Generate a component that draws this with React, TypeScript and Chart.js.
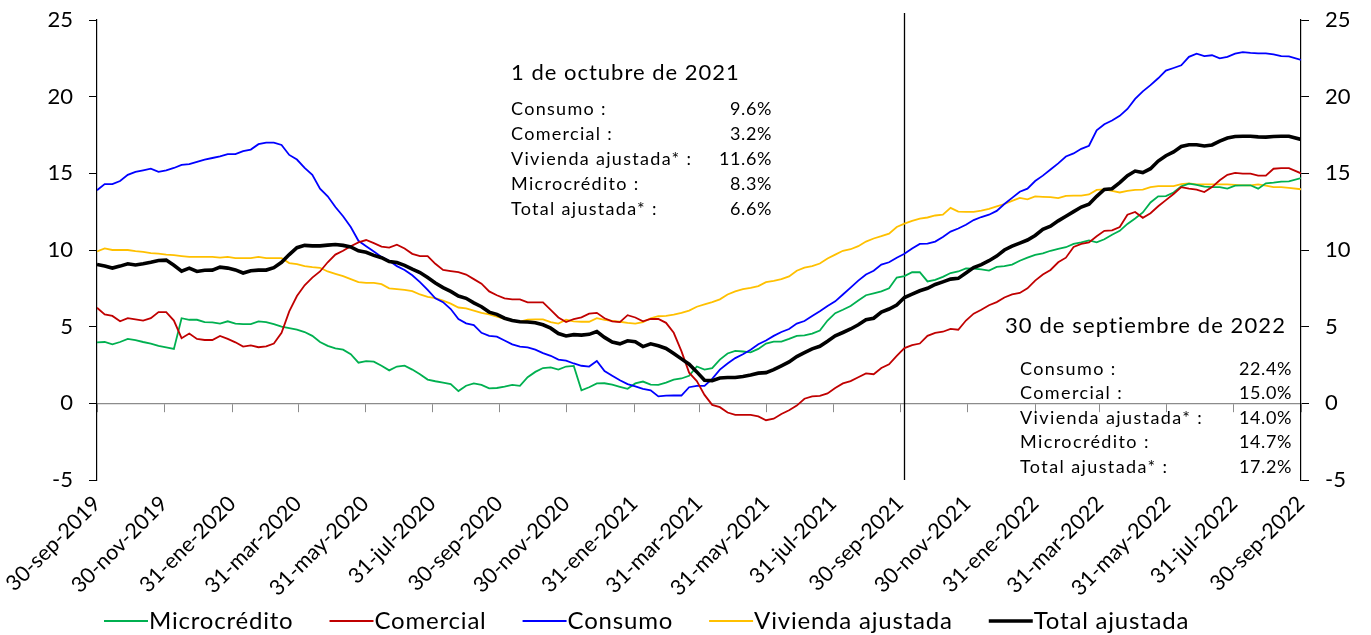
import React, { useEffect, useRef } from "react";
import { Chart, registerables } from "chart.js";

Chart.register(...registerables);

const FONT = "Lato, 'Noto Sans', sans-serif";

const seriesStart = "2019-09-30";
const seriesEnd = "2022-09-30";
const markerDate = "2021-10-04";

const tickDates = [
  "2019-09-30", "2019-11-30", "2020-01-31", "2020-03-31", "2020-05-31", "2020-07-31",
  "2020-09-30", "2020-11-30", "2021-01-31", "2021-03-31", "2021-05-31", "2021-07-31",
  "2021-09-30", "2021-11-30", "2022-01-31", "2022-03-31", "2022-05-31", "2022-07-31", "2022-09-30",
];
const tickLabels = [
  "30-sep-2019", "30-nov-2019", "31-ene-2020", "31-mar-2020", "31-may-2020", "31-jul-2020",
  "30-sep-2020", "30-nov-2020", "31-ene-2021", "31-mar-2021", "31-may-2021", "31-jul-2021",
  "30-sep-2021", "30-nov-2021", "31-ene-2022", "31-mar-2022", "31-may-2022", "31-jul-2022", "30-sep-2022",
];
const yTicks = [-5, 0, 5, 10, 15, 20, 25];

const microcredito = [
  3.98, 4.0, 3.85, 4.0, 4.2, 4.12, 4.0, 3.9, 3.75, 3.65, 3.55, 5.55, 5.45, 5.45, 5.3, 5.28, 5.2, 5.35, 5.2, 5.17, 5.17, 5.35, 5.3, 5.17, 5.0, 4.9, 4.8, 4.65,
  4.4, 4.0, 3.75, 3.59, 3.5, 3.2, 2.65, 2.75, 2.72, 2.45, 2.15, 2.4, 2.46, 2.2, 1.9, 1.55, 1.44, 1.35, 1.25, 0.8, 1.15, 1.3, 1.2, 0.98, 1.0,
  1.09, 1.2, 1.14, 1.7, 2.05, 2.3, 2.35, 2.2, 2.4, 2.44, 0.85, 1.05, 1.3, 1.31, 1.22, 1.08, 0.95, 1.3, 1.42, 1.22, 1.2, 1.35, 1.55, 1.62, 1.8, 2.4, 2.2,
  2.3, 2.85, 3.25, 3.42, 3.38, 3.33, 3.55, 3.9, 4.02, 4.02, 4.2, 4.4, 4.43, 4.55, 4.75, 5.4, 5.88, 6.1, 6.35, 6.7, 7.05, 7.17, 7.3, 7.5,
  8.2, 8.3, 8.55, 8.55, 7.95, 8.05, 8.25, 8.5, 8.6, 8.8, 8.78, 8.73, 8.66, 8.9, 8.95, 9.05, 9.3, 9.5, 9.68, 9.78, 9.95, 10.08, 10.18, 10.4, 10.5, 10.62,
  10.5, 10.7, 11.0, 11.25, 11.7, 12.05, 12.45, 13.1, 13.5, 13.52, 13.75, 14.15, 14.33, 14.25, 14.13, 14.1, 14.1, 14.0, 14.2, 14.22, 14.22, 14.0, 14.35, 14.39, 14.46, 14.48, 14.69,
];
const comercial = [
  6.23, 5.8, 5.7, 5.35, 5.56, 5.48, 5.4, 5.55, 5.95, 5.95, 5.4, 4.25, 4.55, 4.2, 4.13, 4.13, 4.4, 4.2, 3.98, 3.7, 3.78, 3.66, 3.72, 3.9, 4.6, 6.0, 7.0, 7.7,
  8.2, 8.6, 9.2, 9.7, 9.95, 10.25, 10.5, 10.65, 10.45, 10.22, 10.15, 10.35, 10.1, 9.75, 9.6, 9.6, 9.1, 8.7, 8.62, 8.55, 8.4, 8.1, 7.8, 7.3, 7.05, 6.85, 6.78, 6.78,
  6.58, 6.58, 6.58, 6.1, 5.6, 5.3, 5.5, 5.61, 5.85, 5.9, 5.55, 5.35, 5.3, 5.75, 5.6, 5.35, 5.5, 5.5, 5.25, 4.6, 3.4, 2.0, 1.45, 0.55,
  -0.1, -0.25, -0.6, -0.75, -0.75, -0.75, -0.85, -1.1, -1.0, -0.7, -0.45, -0.15, 0.3, 0.45, 0.49, 0.65, 1.0, 1.3, 1.45, 1.7, 1.95, 1.9, 2.3, 2.55,
  3.1, 3.6, 3.8, 3.9, 4.4, 4.6, 4.67, 4.85, 4.8, 5.4, 5.85, 6.1, 6.4, 6.6, 6.9, 7.1, 7.2, 7.5, 8.0, 8.4, 8.7, 9.2, 9.5, 10.2, 10.4, 10.5,
  10.9, 11.25, 11.28, 11.5, 12.3, 12.48, 12.1, 12.4, 12.85, 13.25, 13.65, 14.1, 14.0, 13.94, 13.78, 14.1, 14.55, 14.9, 15.03, 14.98, 14.98, 14.85, 14.85, 15.3, 15.34, 15.34, 15.0,
];
const consumo = [
  13.9, 14.3, 14.3, 14.5, 14.9, 15.1, 15.2, 15.3, 15.1, 15.2, 15.35, 15.55, 15.6, 15.75, 15.9, 16.0, 16.1, 16.25, 16.25, 16.45, 16.55, 16.9, 17.0, 17.0, 16.85, 16.2, 15.9, 15.35,
  14.9, 14.0, 13.5, 12.8, 12.2, 11.5, 10.6, 10.25, 9.9, 9.55, 9.3, 8.95, 8.7, 8.35, 7.9, 7.4, 6.85, 6.6, 6.15, 5.5, 5.22, 5.1, 4.6, 4.4, 4.35, 4.1, 3.85, 3.7,
  3.65, 3.5, 3.28, 3.1, 2.85, 2.79, 2.6, 2.45, 2.4, 2.76, 2.1, 1.8, 1.5, 1.25, 1.1, 0.95, 0.85, 0.45, 0.5, 0.51, 0.51, 1.05, 1.14, 1.14,
  1.6, 2.2, 2.6, 2.95, 3.2, 3.5, 3.85, 4.1, 4.4, 4.65, 4.85, 5.2, 5.37, 5.7, 6.0, 6.35, 6.65, 7.1, 7.55, 8.0, 8.4, 8.65, 9.05, 9.2,
  9.5, 9.75, 10.1, 10.4, 10.42, 10.55, 10.85, 11.2, 11.4, 11.65, 11.95, 12.15, 12.3, 12.55, 13.0, 13.4, 13.8, 14.0, 14.5, 14.85, 15.25, 15.65, 16.1, 16.3, 16.6, 16.8,
  17.8, 18.2, 18.45, 18.75, 19.2, 19.85, 20.35, 20.75, 21.2, 21.7, 21.87, 22.05, 22.6, 22.8, 22.65, 22.7, 22.5, 22.6, 22.8, 22.9, 22.85, 22.82, 22.82, 22.76, 22.65, 22.63, 22.4,
];
const vivienda = [
  9.9, 10.1, 10.0, 10.0, 10.0, 9.92, 9.88, 9.8, 9.77, 9.7, 9.66, 9.6, 9.55, 9.55, 9.55, 9.55, 9.5, 9.55, 9.47, 9.47, 9.47, 9.55, 9.47, 9.47, 9.47, 9.15, 9.08, 8.95,
  8.88, 8.84, 8.6, 8.45, 8.3, 8.1, 7.9, 7.85, 7.85, 7.77, 7.5, 7.45, 7.4, 7.32, 7.1, 6.95, 6.86, 6.7, 6.5, 6.25, 6.2, 6.05, 5.9, 5.8, 5.65, 5.5, 5.4, 5.33,
  5.45, 5.48, 5.48, 5.3, 5.2, 5.45, 5.35, 5.32, 5.32, 5.55, 5.45, 5.38, 5.32, 5.25, 5.2, 5.3, 5.55, 5.68, 5.71, 5.78, 5.9, 6.05, 6.3, 6.45, 6.6, 6.78,
  7.1, 7.3, 7.45, 7.53, 7.65, 7.9, 7.99, 8.1, 8.28, 8.65, 8.85, 8.95, 9.12, 9.45, 9.7, 9.95, 10.05, 10.25, 10.55, 10.75, 10.9, 11.07,
  11.5, 11.72, 11.9, 12.05, 12.12, 12.25, 12.31, 12.75, 12.5, 12.48, 12.48, 12.57, 12.68, 12.85, 13.0, 13.2, 13.4, 13.3, 13.5, 13.47, 13.45, 13.38, 13.53, 13.55, 13.55, 13.62,
  13.92, 13.95, 13.85, 13.75, 13.85, 13.92, 13.94, 14.1, 14.17, 14.17, 14.17, 14.3, 14.35, 14.28, 14.28, 14.28, 14.28, 14.28, 14.25, 14.22, 14.22, 14.28, 14.2, 14.1, 14.1, 14.05, 13.96,
];
const totalAjustada = [
  9.06, 8.95, 8.82, 8.95, 9.1, 9.02, 9.1, 9.2, 9.32, 9.34, 9.0, 8.62, 8.82, 8.6, 8.68, 8.69, 8.88, 8.82, 8.7, 8.5, 8.65, 8.69, 8.69, 8.85, 9.2, 9.7, 10.15, 10.3,
  10.27, 10.27, 10.32, 10.36, 10.3, 10.2, 9.95, 9.85, 9.65, 9.5, 9.25, 9.18, 9.0, 8.75, 8.53, 8.2, 7.85, 7.55, 7.3, 7.0, 6.85, 6.55, 6.3, 5.95, 5.8, 5.55, 5.4, 5.32,
  5.3, 5.25, 5.12, 4.9, 4.55, 4.39, 4.48, 4.45, 4.5, 4.68, 4.3, 4.0, 3.88, 4.08, 4.02, 3.7, 3.88, 3.75, 3.58, 3.25, 2.9, 2.55,
  2.05, 1.5, 1.48, 1.65, 1.68, 1.68, 1.75, 1.85, 1.97, 2.0, 2.2, 2.45, 2.7, 3.05, 3.3, 3.55, 3.72, 4.05, 4.4, 4.62, 4.85, 5.12, 5.45, 5.55, 5.95, 6.15,
  6.41, 6.9, 7.12, 7.34, 7.5, 7.75, 7.92, 8.1, 8.15, 8.5, 8.85, 9.05, 9.3, 9.6, 10.0, 10.25, 10.45, 10.65, 10.95, 11.35, 11.55, 11.9, 12.2, 12.5, 12.8, 12.98,
  13.5, 13.95, 14.0, 14.4, 14.85, 15.15, 15.05, 15.3, 15.8, 16.15, 16.4, 16.75, 16.86, 16.86, 16.78, 16.85, 17.1, 17.3, 17.4, 17.42, 17.42, 17.38, 17.36, 17.4, 17.42, 17.42, 17.21,
];

const seriesLabels = ["Microcrédito", "Comercial", "Consumo", "Vivienda ajustada", "Total ajustada"];
const seriesColors = ["#00B050", "#C00000", "#0000FF", "#FFC000", "#000000"];
const seriesWidths = [1.8, 1.8, 1.8, 1.8, 3.6];
const seriesOrder = [3, 1, 2, 4, 0];

const noteOctTitle = "1 de octubre de 2021";
const noteSepTitle = "30 de septiembre de 2022";
const noteRowLabels = ["Consumo :", "Comercial :", "Vivienda ajustada* :", "Microcrédito :", "Total ajustada* :"];
const noteOctValues = ["9.6%", "3.2%", "11.6%", "8.3%", "6.6%"];
const noteSepValues = ["22.4%", "15.0%", "14.0%", "14.7%", "17.2%"];

function dayOffset(iso: string): number {
  const [y, m, d] = iso.split("-").map(Number);
  const [y0, m0, d0] = seriesStart.split("-").map(Number);
  return Math.round((Date.UTC(y, m - 1, d) - Date.UTC(y0, m0 - 1, d0)) / 86400000);
}

const endDay = dayOffset(seriesEnd);
const tickDays = tickDates.map(dayOffset);
const pointDays = consumo.map((_, i) => (i === consumo.length - 1 ? endDay : i * 7));

function spaced(ctx: any, px: number) {
  ctx.letterSpacing = `${px}px`;
}

const overlayPlugin = {
  id: "overlay",
  beforeDatasetsDraw(chart: any) {
    const { ctx, chartArea } = chart;
    const xs = chart.scales.x;
    const px = Math.round(xs.getPixelForValue(dayOffset(markerDate))) + 0.5;
    ctx.save();
    ctx.strokeStyle = "#000";
    ctx.lineWidth = 1.3;
    ctx.beginPath();
    ctx.moveTo(px, chartArea.top - 7);
    ctx.lineTo(px, chartArea.bottom);
    ctx.stroke();
    ctx.restore();
  },
  afterDraw(chart: any) {
    const ctx = chart.ctx as CanvasRenderingContext2D;
    ctx.save();
    ctx.fillStyle = "#000";
    ctx.textBaseline = "alphabetic";

    // Note: 1 de octubre de 2021
    ctx.textAlign = "left";
    ctx.font = `22px ${FONT}`;
    spaced(ctx, 1.0);
    ctx.fillText(noteOctTitle, 511, 80);
    ctx.font = `18px ${FONT}`;
    noteRowLabels.forEach((label, i) => {
      const yy = 114.5 + i * 25;
      spaced(ctx, 1.3);
      ctx.textAlign = "left";
      ctx.fillText(label, 511, yy);
      spaced(ctx, 0.6);
      ctx.textAlign = "right";
      ctx.fillText(noteOctValues[i], 772, yy);
    });

    // Note: 30 de septiembre de 2022
    ctx.textAlign = "left";
    ctx.font = `22px ${FONT}`;
    spaced(ctx, 1.1);
    ctx.fillText(noteSepTitle, 1005, 332.5);
    ctx.font = `18px ${FONT}`;
    noteRowLabels.forEach((label, i) => {
      const yy = 374.5 + i * 24.6;
      spaced(ctx, 1.4);
      ctx.textAlign = "left";
      ctx.fillText(label, 1020, yy);
      spaced(ctx, 0.6);
      ctx.textAlign = "right";
      ctx.fillText(noteSepValues[i], 1292, yy);
    });

    // Legend
    const ly = 621;
    let lx = 104;
    ctx.font = `24px ${FONT}`;
    spaced(ctx, 0.8);
    ctx.textBaseline = "middle";
    ctx.textAlign = "left";
    chart.data.datasets.forEach((ds: any) => {
      ctx.strokeStyle = ds.borderColor;
      ctx.lineWidth = ds.borderWidth;
      ctx.beginPath();
      ctx.moveTo(lx, ly);
      ctx.lineTo(lx + 44, ly);
      ctx.stroke();
      lx += 45;
      ctx.fillStyle = "#000";
      ctx.fillText(ds.label, lx, ly);
      lx += ctx.measureText(ds.label).width + 36;
    });
    ctx.restore();
  },
};

export default function App() {
  const ref = useRef<HTMLCanvasElement>(null);

  useEffect(() => {
    if (!ref.current) return;
    const values = [microcredito, comercial, consumo, vivienda, totalAjustada];
    const datasets = values.map((vals, k) => ({
      label: seriesLabels[k],
      data: vals.map((v, i) => ({ x: pointDays[i], y: v })),
      borderColor: seriesColors[k],
      backgroundColor: seriesColors[k],
      borderWidth: seriesWidths[k],
      pointRadius: 0,
      tension: 0,
      fill: false,
      order: seriesOrder[k],
      xAxisID: "x",
      yAxisID: "y",
    }));

    const tickFont = { family: FONT, size: 22 };
    const setTicks = (s: any) => {
      s.ticks = tickDays.map((v) => ({ value: v }));
    };
    const setYTicks = (s: any) => {
      s.ticks = yTicks.map((v) => ({ value: v }));
    };
    const fitY = (w: number) => (s: any) => {
      s.width = w;
      s.paddingTop = 0;
      s.paddingBottom = 0;
    };

    const chart = new Chart(ref.current, {
      type: "line",
      data: { datasets },
      options: {
        animation: false,
        responsive: false,
        maintainAspectRatio: false,
        layout: { padding: { top: 20, left: 0, right: 0, bottom: 0 } },
        plugins: { legend: { display: false }, tooltip: { enabled: false } },
        scales: {
          x: {
            type: "linear",
            min: 0,
            max: endDay,
            position: { y: 0 } as any,
            afterBuildTicks: setTicks,
            ticks: { display: false },
            grid: { drawOnChartArea: false, drawTicks: true, tickLength: 8, color: "#8c8c8c", lineWidth: 1 },
            border: { display: true, color: "#8c8c8c", width: 1.2 },
            afterFit: (s: any) => {
              s.height = 0;
            },
          },
          x2: {
            type: "linear",
            min: 0,
            max: endDay,
            position: "bottom",
            afterBuildTicks: setTicks,
            ticks: {
              autoSkip: false,
              maxRotation: 45,
              minRotation: 45,
              padding: 11,
              color: "#000",
              font: { family: FONT, size: 21.5 },
              callback: (_v: any, i: number) => tickLabels[i],
            },
            grid: { display: false, drawTicks: false },
            border: { display: false },
            afterFit: (s: any) => {
              s.height = 155;
              s.paddingLeft = 0;
              s.paddingRight = 0;
            },
          },
          y: {
            type: "linear",
            min: -5,
            max: 25,
            position: "left",
            afterBuildTicks: setYTicks,
            ticks: { color: "#000", font: tickFont, padding: 16 },
            grid: { drawOnChartArea: false, drawTicks: true, tickLength: 8, color: "#000" },
            border: { display: true, color: "#000", width: 1.2 },
            afterFit: fitY(97),
          },
          y2: {
            type: "linear",
            min: -5,
            max: 25,
            position: "right",
            afterBuildTicks: setYTicks,
            ticks: { color: "#000", font: tickFont, padding: 16 },
            grid: { drawOnChartArea: false, drawTicks: true, tickLength: 8, color: "#000" },
            border: { display: true, color: "#000", width: 1.2 },
            afterFit: fitY(70),
          },
        },
      },
      plugins: [overlayPlugin],
    });
    return () => chart.destroy();
  }, []);

  return (
    <div style={{ position: "fixed", left: 0, top: 0, width: 1371, height: 635, background: "#fff" }}>
      <canvas ref={ref} width={1371} height={635} style={{ display: "block", width: 1371, height: 635 }} />
    </div>
  );
}
